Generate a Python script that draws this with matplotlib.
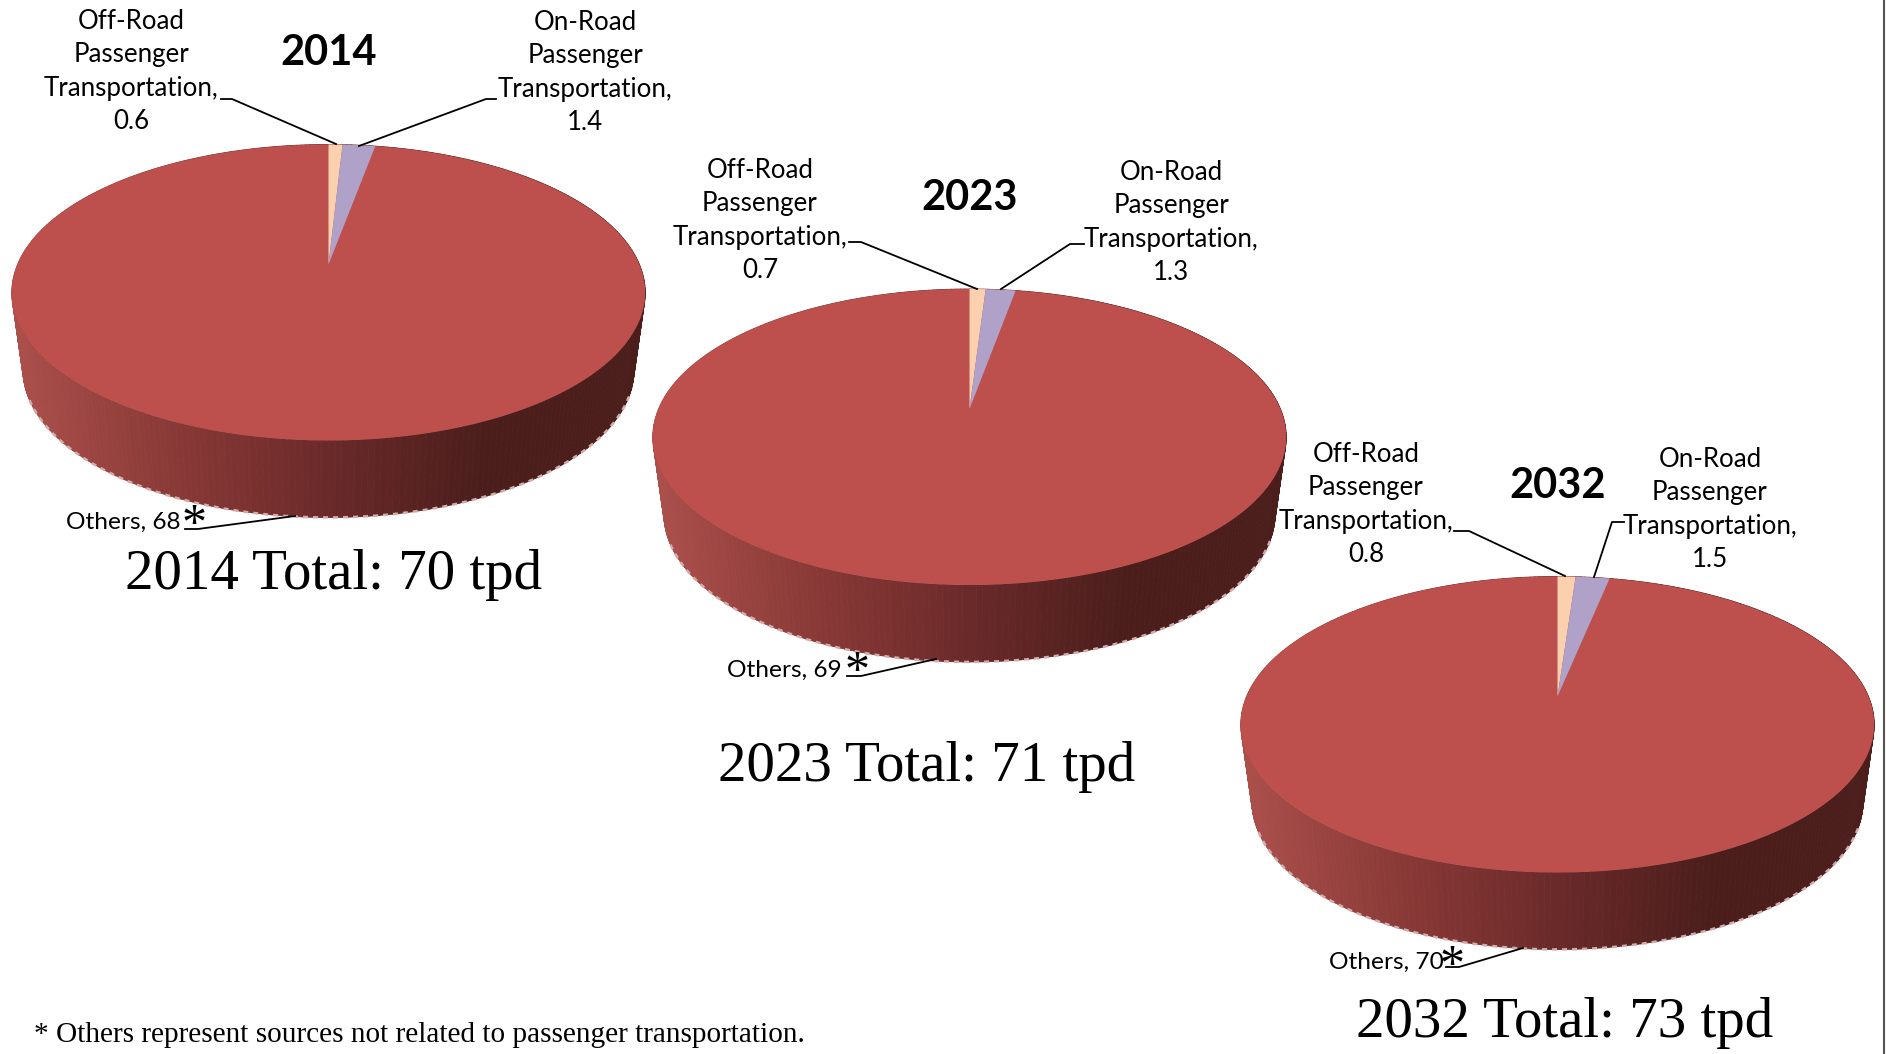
import numpy as np
import matplotlib
matplotlib.use('Agg')
import matplotlib.pyplot as plt
from matplotlib.collections import PolyCollection
from matplotlib.colors import LinearSegmentedColormap

# data
years = ['2014', '2023', '2032']
totals = [70, 71, 73]
off_road = [0.6, 0.7, 0.8]
on_road = [1.4, 1.3, 1.5]
others = [68, 69, 70]
slice_colors = ['#FAD0AE', '#AFA1C7', '#BD4F4C']
wall_colors = ['#AB4F4B', '#8A3A37', '#6B2A2A', '#4B1E1C', '#4B1E1C']
footnote = '* Others represent sources not related to passenger transportation.'

label_font = ['Lato', 'DejaVu Sans']
big_font = ['Liberation Serif', 'DejaVu Serif']

# pie placement, pixels of the figure
apex_x = [328.5, 969.5, 1557.5]
apex_y = [264.5, 409, 696.5]
RX = 311.0
RY = 142.7
K = 0.189
DEPTH = 77.0
BOTTOM_SCALE = 0.965

wall_cmap = LinearSegmentedColormap.from_list('wall', wall_colors)


def project(theta, cx, cy, scale=1.0, drop=0.0):
    # theta measured clockwise from the top of the pie
    u = np.sin(theta)
    v = np.cos(theta)
    w = 1 + K * v
    return cx + scale * RX * u / w, cy - RY * v / w + drop


def draw_pie(ax, cx, cy, values):
    # side wall first, the top face goes over it
    th = np.radians(np.linspace(0, 360, 361))
    xt, yt = project(th, cx, cy)
    xb, yb = project(th, cx, cy, BOTTOM_SCALE, DEPTH)

    quads = []
    shades = []
    for i in range(360):
        quads.append([(xt[i], yt[i]), (xt[i + 1], yt[i + 1]),
                      (xb[i + 1], yb[i + 1]), (xb[i], yb[i])])
        shades.append(wall_cmap((xt[i] - cx + 317) / 634))
    ax.add_collection(PolyCollection(quads, facecolors=shades, edgecolors=shades,
                                     linewidths=0.6, zorder=2))

    # stippled pale fringe round the bottom edge
    front = np.cos(th) < -0.35
    ax.plot(xb[front], yb[front], color='#D3ABAB', lw=1.8, ls=(0, (2, 2)), zorder=2.5)

    ax.fill(xt, yt, color=slice_colors[2], lw=0, zorder=3)

    # slices from the values, clockwise from the top
    fracs = np.cumsum([0] + list(values)) / np.sum(values) * 2 * np.pi
    for i in range(2):
        t = np.linspace(fracs[i], fracs[i + 1], 20)
        x, y = project(t, cx, cy)
        ax.fill(np.r_[cx, x], np.r_[cy, y], color=slice_colors[i], lw=0, zorder=4)


fig = plt.figure(figsize=(18.86, 10.54), dpi=100)
ax = fig.add_axes([0, 0, 1, 1])
ax.set_xlim(0, 1886)
ax.set_ylim(1054, 0)
ax.axis('off')

for n in range(3):
    draw_pie(ax, apex_x[n], apex_y[n], [off_road[n], on_road[n], others[n]])

# leader lines
leaders = [
    [(221, 99), (232, 99), (336, 144)],
    [(496, 99), (486, 99), (359, 146)],
    [(185, 529), (198, 529), (295, 516)],
    [(849, 242), (861, 242), (977, 289)],
    [(1084, 244), (1070, 244), (1001, 289)],
    [(847, 676), (861, 676), (936, 659)],
    [(1454, 531), (1469, 531), (1565, 576)],
    [(1624, 522), (1612, 522), (1594, 577)],
    [(1446, 967), (1459, 967), (1523, 948)],
]
for line in leaders:
    pts = np.array(line)
    ax.plot(pts[:, 0], pts[:, 1], color='black', lw=1.3, zorder=6)

# category labels, x is the centre of the block, y its first line
off_pos = [(131, 9), (760, 158), (1366, 442)]
on_pos = [(585, 10), (1171, 160), (1710, 447)]
others_pos = [(66, 522), (727, 670), (1329, 962)]
star_pos = [(194, 518), (857, 665), (1452, 959)]
title_pos = [(329, 53), (970, 198), (1558, 486)]
total_pos = [(334, 575), (927, 767), (1565, 1023)]

for n in range(3):
    ax.text(off_pos[n][0], off_pos[n][1],
            'Off-Road\nPassenger\nTransportation,\n%s' % off_road[n],
            ha='center', va='top', family=label_font,
            fontsize=18.6, linespacing=1.42, zorder=7)
    ax.text(on_pos[n][0], on_pos[n][1],
            'On-Road\nPassenger\nTransportation,\n%s' % on_road[n],
            ha='center', va='top', family=label_font,
            fontsize=18.6, linespacing=1.42, zorder=7)
    ax.text(others_pos[n][0], others_pos[n][1], 'Others, %d' % others[n],
            ha='left', va='center', family=label_font, fontsize=17.6, zorder=7)
    ax.text(star_pos[n][0], star_pos[n][1] + 8, '*', ha='center', va='center',
            family=big_font, fontsize=36, zorder=7)
    ax.text(title_pos[n][0], title_pos[n][1], years[n], ha='center', va='center',
            family=label_font, fontsize=30, fontweight='bold', zorder=7)
    ax.text(total_pos[n][0], total_pos[n][1], '%s Total: %d tpd' % (years[n], totals[n]),
            ha='center', va='center', family=big_font, fontsize=41, zorder=7)

ax.text(34, 1035, footnote, ha='left', va='center', family=big_font, fontsize=21.1)

# thin grey rule on the right edge
ax.plot([1884, 1884], [0, 1054], color='#555555', lw=1.5)

fig.savefig('out.png', dpi=100)
